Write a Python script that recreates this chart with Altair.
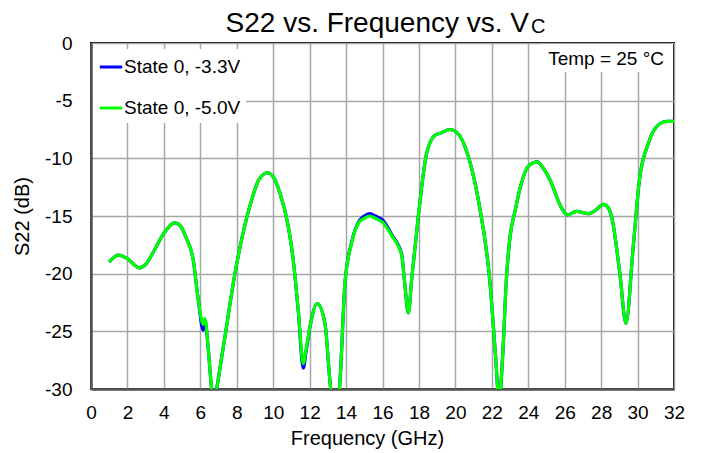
import altair as alt
import pandas as pd

# Frequency (GHz) and S22 (dB)
freq = [1.0, 1.5, 2.0, 2.65, 3.0, 3.5, 4.0, 4.6, 4.88, 5.2, 5.61, 5.89, 6.16, 6.26, 6.44, 6.62, 6.76,
        6.9, 7.3, 7.9, 8.3, 8.82, 9.2, 9.68, 10.0, 10.37, 10.83, 11.1, 11.38, 11.65, 11.8, 12.02,
        12.42, 12.84, 13.16, 13.4, 13.63, 13.94, 14.3, 14.73, 15.0, 15.3, 15.6, 16.04, 16.5, 17.05,
        17.2, 17.42, 17.6, 17.96, 18.42, 18.88, 19.2, 19.7, 20.1, 20.6, 21.26, 21.9, 22.2, 22.4,
        22.6, 22.8, 23.0, 23.27, 23.6, 24.0, 24.5, 24.8, 25.2, 25.83, 26.14, 26.66, 27.29, 27.7, 28.12,
        28.4, 28.58, 29.03, 29.36, 29.76, 30.1, 30.59, 31.22, 31.6, 32.0]

s22_50 = [-19.0, -18.4, -18.7, -19.5, -19.2, -17.9, -16.5, -15.6, -15.8, -16.8, -18.8, -22.3, -24.4,
          -23.9, -26.6, -30.0, -31.5, -30.0, -26.0, -20.0, -16.8, -13.6, -11.9, -11.25, -11.6,
          -13.0, -15.9, -18.8, -23.2, -27.8, -26.6, -24.6, -22.6, -24.3, -30.0, -31.5,
          -30.0, -20.8, -17.4, -15.5, -15.2, -15.0, -15.2, -15.6, -16.7, -18.4, -20.5, -23.4, -20.5,
          -15.1, -9.6, -8.0, -7.8, -7.5, -7.8, -9.3, -13.6, -20.8, -27.0, -31.0, -27.0, -20.5, -16.8,
          -14.6, -12.3, -10.7, -10.3, -10.8, -11.9, -14.3, -14.9, -14.6, -14.8, -14.5, -14.0,
          -14.3, -15.1, -20.0, -24.3, -17.7, -11.9, -8.7, -7.0, -6.8, -6.8]

s22_33 = [-19.0, -18.4, -18.7, -19.5, -19.2, -17.9, -16.5, -15.6, -15.8, -16.8, -18.8, -22.3, -24.9,
          -24.1, -26.6, -30.0, -31.5, -30.0, -26.0, -20.0, -16.8, -13.6, -11.9, -11.25, -11.6,
          -13.0, -15.9, -18.8, -23.3, -28.2, -26.8, -24.6, -22.6, -24.3, -30.0, -31.5,
          -30.0, -20.8, -17.3, -15.4, -15.0, -14.8, -15.0, -15.4, -16.6, -18.3, -20.5, -23.4, -20.5,
          -15.1, -9.6, -8.0, -7.8, -7.5, -7.8, -9.3, -13.6, -20.8, -27.0, -31.0, -27.0, -20.5, -16.8,
          -14.6, -12.3, -10.7, -10.3, -10.8, -11.9, -14.3, -14.9, -14.6, -14.8, -14.5, -14.0,
          -14.3, -15.1, -20.0, -24.3, -17.7, -11.9, -8.7, -7.0, -6.8, -6.8]

series_names = ["State 0, -3.3V", "State 0, -5.0V"]
series_colors = ["#0000ff", "#00ff00"]
x_ticks = list(range(0, 33, 2))
y_ticks = [0, -5, -10, -15, -20, -25, -30]

df = pd.concat([
    pd.DataFrame({"f": freq, "s": s22_33, "series": series_names[0]}),
    pd.DataFrame({"f": freq, "s": s22_50, "series": series_names[1]}),
])

FONT = "Liberation Sans"

lines = alt.Chart(df).mark_line(clip=True, strokeWidth=3.2, interpolate="monotone").encode(
    x=alt.X("f:Q", scale=alt.Scale(domain=[0, 32], nice=False),
            axis=alt.Axis(values=x_ticks, title="Frequency (GHz)", labelFontSize=19,
                          titleFontSize=20, labelPadding=14, titlePadding=6, labelFlush=False,
                          titleX=276)),
    y=alt.Y("s:Q", scale=alt.Scale(domain=[-30, 0], nice=False),
            axis=alt.Axis(values=y_ticks, title="S22 (dB)", labelFontSize=19,
                          titleFontSize=20, labelPadding=19, titlePadding=12, labelFlush=False,
                          labelExpr="datum.value == 0 ? '0' : '-' + abs(datum.value)")),
    color=alt.Color("series:N", scale=alt.Scale(domain=series_names, range=series_colors),
                    legend=alt.Legend(title=None, orient="none", legendX=2, legendY=6,
                                      symbolType="stroke", symbolSize=500, symbolStrokeWidth=3,
                                      labelFontSize=19, rowPadding=18, fillColor="white",
                                      padding=5, labelOffset=0)),
)

one = pd.DataFrame({"a": [0]})

title_main = alt.Chart(one).mark_text(text="S22 vs. Frequency vs. V", fontSize=28, align="right",
                                      baseline="alphabetic", font=FONT, color="black").encode(
    x=alt.value(438), y=alt.value(-11))
title_sub = alt.Chart(one).mark_text(text="C", fontSize=20, align="left",
                                     baseline="alphabetic", font=FONT, color="black").encode(
    x=alt.value(440), y=alt.value(-10))

temp_box = alt.Chart(one).mark_rect(color="white").encode(
    x=alt.value(450), x2=alt.value(582), y=alt.value(1), y2=alt.value(29))
temp_text = alt.Chart(one).mark_text(text="Temp = 25 °C", fontSize=19, align="right",
                                     baseline="alphabetic", font=FONT, color="black").encode(
    x=alt.value(573), y=alt.value(22))

chart = alt.layer(lines, temp_box, temp_text, title_main, title_sub).properties(
    width=583, height=346,
    autosize=alt.AutoSizeParams(type="none"),
    padding={"left": 83, "top": 35, "right": 20, "bottom": 60},
).configure(font=FONT).configure_view(
    stroke="black", strokeWidth=2
).configure_axis(
    grid=True, gridColor="#a6a6a6", gridWidth=1.5, ticks=False,
    domainColor="#555555", domainWidth=2.5, labelColor="black", titleColor="black",
    titleFontWeight="normal", labelFont=FONT, titleFont=FONT
).configure_legend(labelFont=FONT, labelColor="black")

chart.save("out.html", embed_options={"renderer": "svg", "actions": False})
